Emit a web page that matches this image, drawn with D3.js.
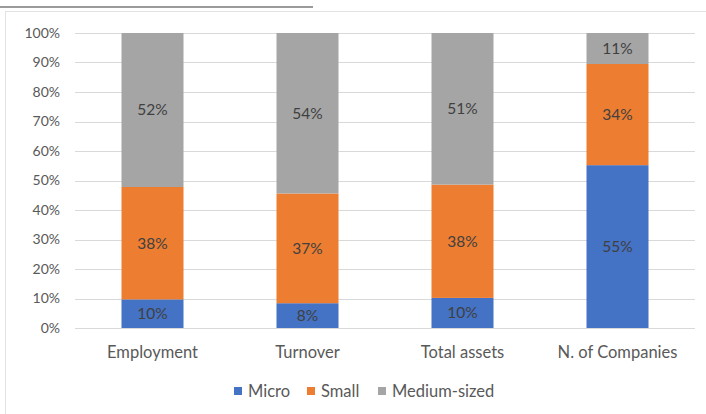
<!DOCTYPE html>
<html>
<head>
<meta charset="utf-8">
<script src="https://cdn.jsdelivr.net/npm/d3@7"></script>
<style>
  body { margin: 0; background: #fff; }
  svg { display: block; font-family: Lato, "Open Sans", sans-serif; }
</style>
</head>
<body>
<svg id="chart" width="706" height="414"></svg>
<script>
const categories = ["Employment", "Turnover", "Total assets", "N. of Companies"];
const seriesNames = ["Micro", "Small", "Medium-sized"];
const micro = [9.7, 8.4, 10.2, 55.2];
const small = [38.1, 37.2, 38.4, 34.3];
const medium = [52.2, 54.4, 51.4, 10.5];
const yTicks = [0, 10, 20, 30, 40, 50, 60, 70, 80, 90, 100];
const colors = ["#4472C4", "#ED7D31", "#A5A5A5"];

const rows = categories.map((c, i) => ({
  cat: c, Micro: micro[i], Small: small[i], "Medium-sized": medium[i]
}));

const svg = d3.select("#chart");

// scrap of the page above the chart and the chart frame
svg.append("line").attr("x1", 0).attr("x2", 313).attr("y1", 7).attr("y2", 7)
  .attr("stroke", "#9a9a9a").attr("stroke-width", 2);
svg.append("rect").attr("x", 5.5).attr("y", 11.5).attr("width", 710).attr("height", 420)
  .attr("fill", "none").attr("stroke", "#e3e3e3");

const x = d3.scaleBand().domain(categories).range([75, 695]).paddingInner(0.6).paddingOuter(0.3);
const y = d3.scaleLinear().domain([0, 100]).range([328, 33]);

// gridlines
svg.append("g").selectAll("line").data(yTicks).join("line")
  .attr("x1", 75).attr("x2", 695)
  .attr("y1", d => Math.round(y(d)) + 0.5).attr("y2", d => Math.round(y(d)) + 0.5)
  .attr("stroke", "#d9d9d9");

// y tick labels
svg.append("g").selectAll("text").data(yTicks).join("text")
  .attr("x", 60).attr("y", d => y(d)).attr("dy", "0.35em")
  .attr("text-anchor", "end").attr("font-size", 14).attr("fill", "#595959")
  .text(d => d + "%");

const stacked = d3.stack().keys(seriesNames)(rows);

const layer = svg.append("g").selectAll("g").data(stacked).join("g")
  .attr("fill", (d, i) => colors[i]);

layer.selectAll("rect").data(d => d).join("rect")
  .attr("x", d => x(d.data.cat))
  .attr("width", x.bandwidth())
  .attr("y", d => y(d[1]))
  .attr("height", d => y(d[0]) - y(d[1]));

layer.selectAll("text").data(d => d).join("text")
  .attr("x", d => x(d.data.cat) + x.bandwidth() / 2)
  .attr("y", d => y((d[0] + d[1]) / 2))
  .attr("dy", "0.35em")
  .attr("text-anchor", "middle")
  .attr("font-size", 15.5)
  .attr("fill", "#404040")
  .text(d => Math.round(d[1] - d[0]) + "%");

// category labels
svg.append("g").selectAll("text").data(categories).join("text")
  .attr("x", d => x(d) + x.bandwidth() / 2).attr("y", 352).attr("dy", "0.35em")
  .attr("text-anchor", "middle").attr("font-size", 16.5).attr("fill", "#595959")
  .text(d => d);

// legend
const legendX = [234, 307, 378];
const lg = svg.append("g").selectAll("g").data(seriesNames).join("g")
  .attr("transform", (d, i) => `translate(${legendX[i]},391)`);
lg.append("rect").attr("x", 0).attr("y", -4).attr("width", 8).attr("height", 8)
  .attr("fill", (d, i) => colors[i]);
lg.append("text").attr("x", 14).attr("y", 0).attr("dy", "0.35em")
  .attr("font-size", 16.5).attr("fill", "#595959").text(d => d);
</script>
</body>
</html>
